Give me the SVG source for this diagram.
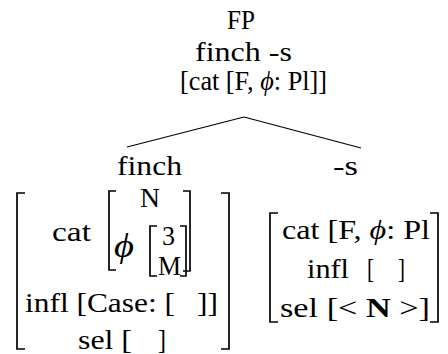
<svg xmlns="http://www.w3.org/2000/svg" width="448" height="354" viewBox="0 0 448 354">
<style>
text{font-family:"Liberation Serif","Times New Roman",serif;font-size:28px;fill:#000}
.it{font-style:italic}
.b{font-weight:bold}
.br{fill:none;stroke:#000;stroke-width:1.7}
.edge{fill:none;stroke:#000;stroke-width:1.2}
</style>
<rect width="448" height="354" fill="#fff"/>
<g id="connectors">
<line class="edge" x1="244" y1="117" x2="127" y2="147"/>
<line class="edge" x1="244" y1="117" x2="361" y2="148"/>
</g>
<g id="FP">
<text x="227" y="29" textLength="28" lengthAdjust="spacingAndGlyphs">FP</text>
<text x="195" y="61" textLength="97" lengthAdjust="spacingAndGlyphs">finch -s</text>
<text x="180" y="90" textLength="147" lengthAdjust="spacingAndGlyphs">[cat [F, <tspan class="it">ϕ</tspan>: Pl]]</text>
</g>
<g id="finch">
<text x="117" y="175" textLength="65" lengthAdjust="spacingAndGlyphs">finch</text>
<path class="br" d="M25 193H17V349H25"/>
<path class="br" d="M221 193H229V349H221"/>
<text x="52" y="241" textLength="39" lengthAdjust="spacingAndGlyphs">cat</text>
<path class="br" d="M116 191H109V270H116"/>
<path class="br" d="M183 191H190V271H183"/>
<text x="140" y="207" textLength="20" lengthAdjust="spacingAndGlyphs">N</text>
<text class="it" x="114" y="257" style="font-size:33px" textLength="20" lengthAdjust="spacingAndGlyphs">ϕ</text>
<path class="br" d="M157 226H150V276H157"/>
<path class="br" d="M180 226H186V276H180"/>
<text x="162" y="245" textLength="13" lengthAdjust="spacingAndGlyphs">3</text>
<text x="158" y="275" textLength="23" lengthAdjust="spacingAndGlyphs">M</text>
<text x="25" y="312" textLength="150" lengthAdjust="spacingAndGlyphs">infl [Case: [</text>
<text x="197" y="312" textLength="21" lengthAdjust="spacingAndGlyphs">]]</text>
<text x="78" y="349" textLength="54" lengthAdjust="spacingAndGlyphs">sel [</text>
<text x="158" y="349" textLength="8" lengthAdjust="spacingAndGlyphs">]</text>
</g>
<g id="s">
<text x="333" y="175" textLength="25" lengthAdjust="spacingAndGlyphs">-s</text>
<path class="br" d="M278 213H270V322H278"/>
<path class="br" d="M430 213H438V322H430"/>
<text x="282" y="239" textLength="148" lengthAdjust="spacingAndGlyphs">cat [F, <tspan class="it">ϕ</tspan>: Pl</text>
<text x="307" y="278" textLength="42" lengthAdjust="spacingAndGlyphs">infl</text>
<text x="367" y="278" textLength="7" lengthAdjust="spacingAndGlyphs">[</text>
<text x="398" y="278" textLength="7" lengthAdjust="spacingAndGlyphs">]</text>
<text x="280" y="317" textLength="150" lengthAdjust="spacingAndGlyphs">sel [&lt; <tspan class="b">N</tspan> &gt;]</text>
</g>
</svg>
